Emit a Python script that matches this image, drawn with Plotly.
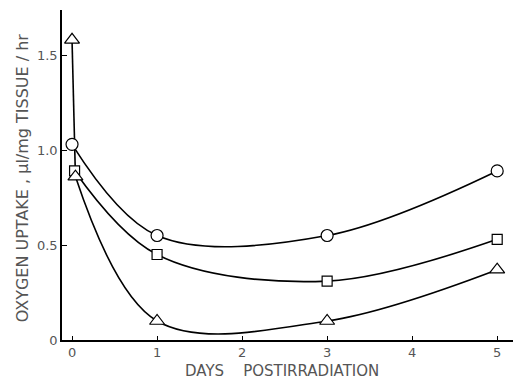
import plotly.graph_objects as go

# Data
circle_days = [0, 1, 3, 5]
circle_vals = [1.03, 0.55, 0.55, 0.89]

square_days = [0.03, 1, 3, 5]
square_vals = [0.89, 0.45, 0.31, 0.53]

triangle_days = [0, 0.04, 1, 3, 5]
triangle_vals = [1.58, 0.86, 0.10, 0.10, 0.37]

x_ticks = [0, 1, 2, 3, 4, 5]
x_tick_labels = ["0", "1", "2", "3", "4", "5"]
y_ticks = [0, 0.5, 1.0, 1.5]
y_tick_labels = ["0", "0.5", "1.0", "1.5"]

fig = go.Figure()

def add_line(xs, ys, shape):
    fig.add_trace(go.Scatter(
        x=xs, y=ys, mode="lines",
        line=dict(color="black", width=1.6, shape=shape, smoothing=1.0),
        showlegend=False, hoverinfo="skip",
    ))

def add_markers(xs, ys, symbol, size):
    fig.add_trace(go.Scatter(
        x=xs, y=ys, mode="markers",
        marker=dict(symbol=symbol, size=size, color="white",
                    line=dict(color="black", width=1.2)),
        cliponaxis=False, showlegend=False,
    ))

add_line(circle_days, circle_vals, "spline")
add_line(square_days, square_vals, "spline")
# steep initial drop of the triangle series drawn straight, remainder smoothed
add_line(triangle_days[:2], triangle_vals[:2], "linear")
add_line(triangle_days[1:], triangle_vals[1:], "spline")

add_markers(circle_days, circle_vals, "circle", 12)
add_markers(square_days, square_vals, "square", 10)
add_markers(triangle_days, triangle_vals, "triangle-up", 13)

font = dict(family="DejaVu Sans, Liberation Sans, sans-serif", size=13, color="#555")

fig.update_layout(
    width=521, height=380,
    margin=dict(l=54, r=8, t=2, b=48),
    paper_bgcolor="white", plot_bgcolor="white",
    font=font,
    xaxis=dict(
        range=[-0.118, 5.28], tickvals=x_ticks, ticktext=x_tick_labels,
        showgrid=False, zeroline=False, showline=True, linecolor="black", linewidth=1.5,
        ticks="inside", ticklen=4, tickcolor="black",
    ),
    yaxis=dict(
        range=[0, 1.737], tickvals=y_ticks, ticktext=y_tick_labels,
        showgrid=False, zeroline=False, showline=True, linecolor="black", linewidth=1.5,
        ticks="inside", ticklen=5, tickcolor="black",
    ),
    annotations=[
        dict(text="DAYS    POSTIRRADIATION", xref="paper", yref="paper",
             x=0.48, y=-0.093, xanchor="center", yanchor="middle",
             showarrow=False, font=dict(family=font["family"], size=15, color="#555")),
        dict(text="OXYGEN UPTAKE , µl/mg TISSUE / hr", xref="paper", yref="paper",
             x=-0.087, y=0.49, xanchor="center", yanchor="middle", textangle=-90,
             showarrow=False, font=dict(family=font["family"], size=16, color="#555")),
    ],
)

fig.write_html("out.html")
